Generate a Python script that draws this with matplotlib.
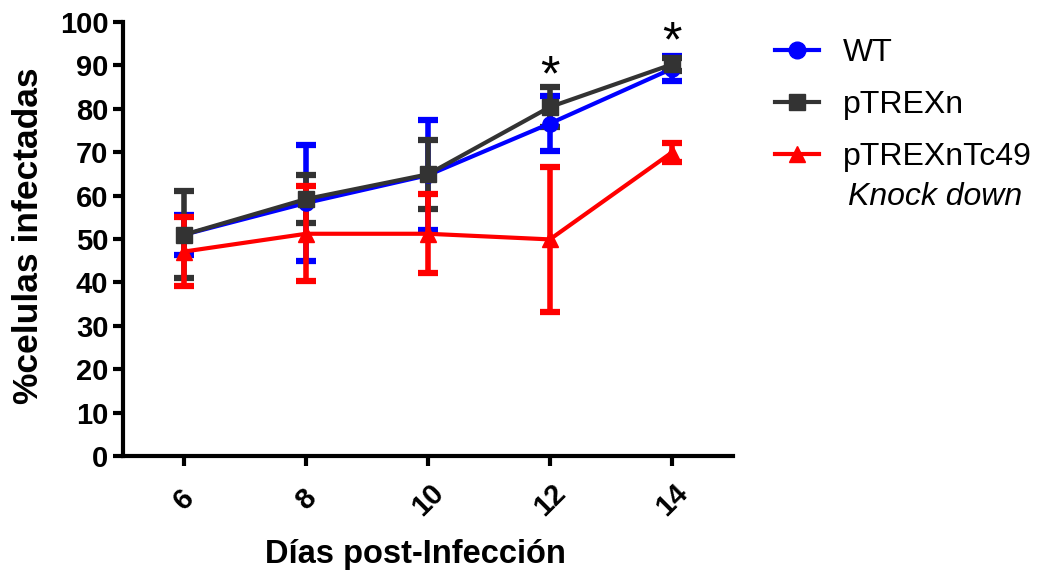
"""Infection time course: % infected cells per day post-infection."""

import matplotlib.pyplot as plt
from matplotlib.lines import Line2D

days = [6, 8, 10, 12, 14]

wt_mean = [51.0, 58.3, 64.7, 76.6, 89.2]
wt_err = [4.6, 13.4, 12.7, 6.3, 2.9]

ptrexn_mean = [51.0, 59.2, 64.9, 80.4, 90.2]
ptrexn_err = [10.0, 5.5, 7.9, 4.6, 1.5]

kd_mean = [47.1, 51.2, 51.2, 49.9, 69.9]
kd_err = [8.0, 10.9, 9.1, 16.7, 2.1]

star_days = [12, 14]
star_y = [87.2, 95.0]

COLORS = {"wt": "#0000FF", "ptrexn": "#333333", "kd": "#FF0000"}

plt.rcParams.update(
    {
        "font.family": ["Liberation Sans", "DejaVu Sans"],
        "axes.linewidth": 3,
    }
)

fig = plt.figure(figsize=(10.56, 5.78), dpi=100)
ax = fig.add_axes([0.1168, 0.2111, 0.577, 0.7509])

series = [
    (wt_mean, wt_err, COLORS["wt"], "o", 11),
    (ptrexn_mean, ptrexn_err, COLORS["ptrexn"], "s", 12),
    (kd_mean, kd_err, COLORS["kd"], "^", 12),
]
for mean, err, color, marker, ms in series:
    ax.errorbar(
        days,
        mean,
        yerr=err,
        color=color,
        marker=marker,
        markersize=ms,
        linewidth=3,
        elinewidth=4,
        capsize=7,
        capthick=4.5,
    )

for d, y in zip(star_days, star_y):
    ax.text(d, y, "*", ha="center", va="center", fontsize=36, clip_on=False)

ax.set_xlim(5, 15)
ax.set_ylim(0, 100)
ax.set_xticks(days)
ax.set_yticks(range(0, 101, 10))
ax.spines["top"].set_visible(False)
ax.spines["right"].set_visible(False)
ax.tick_params(axis="both", width=3, length=7.2, labelsize=21)
ax.tick_params(axis="y", pad=3.5)
ax.tick_params(axis="x", pad=24.5, labelsize=21)
for lbl in ax.get_yticklabels():
    lbl.set_fontweight("bold")
for lbl in ax.get_xticklabels():
    lbl.set_fontweight("bold")
    lbl.set_rotation(45)
    lbl.set_ha("center")
    lbl.set_va("center")

ax.set_xlabel("Días post-Infección", fontsize=23.5, fontweight="bold", va="baseline")
ax.xaxis.set_label_coords(0.48, -0.2465)
ax.set_ylabel("%celulas infectadas", fontsize=25.5, fontweight="bold", va="center")
ax.yaxis.set_label_coords(-0.155, 0.507)

handles = [
    Line2D([], [], color=COLORS["wt"], marker="o", markersize=12, linewidth=3),
    Line2D([], [], color=COLORS["ptrexn"], marker="s", markersize=12, linewidth=3),
    Line2D([], [], color=COLORS["kd"], marker="^", markersize=12, linewidth=3),
]
fig.legend(
    handles,
    ["WT", "pTREXn", "pTREXnTc49"],
    loc="upper left",
    bbox_to_anchor=(0.734, 0.934),
    frameon=False,
    fontsize=23,
    handlelength=1.38,
    handletextpad=0.75,
    labelspacing=0.69,
    borderpad=0,
    borderaxespad=0,
)
fig.text(0.803, 0.66, "Knock down", fontsize=23, style="italic", va="center")

fig.savefig("out.png", dpi=100)
